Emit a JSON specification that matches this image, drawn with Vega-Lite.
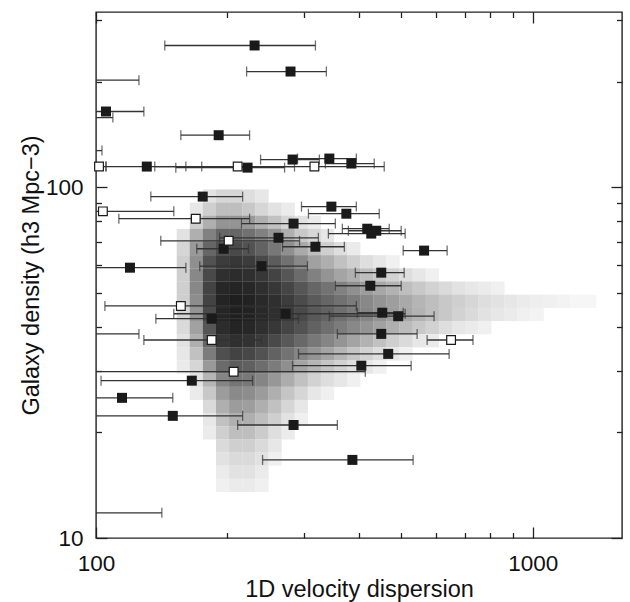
{
  "$schema": "https://vega.github.io/schema/vega-lite/v6.json",
  "width": 526,
  "height": 526,
  "autosize": {"type": "none"},
  "padding": {"left": 96, "top": 12, "right": 8, "bottom": 64},
  "background": "white",
  "config": {
    "view": {"stroke": "#222", "strokeWidth": 1.4},
    "font": "Liberation Sans",
    "axis": {
      "domain": false, "grid": false, "tickColor": "#222", "tickWidth": 1.3,
      "labelFont": "Liberation Sans", "labelFontSize": 22.5, "labelColor": "#111",
      "titleFont": "Liberation Sans", "titleFontSize": 23.5, "titleFontWeight": "normal", "titleColor": "#111",
      "labelOverlap": false, "labelFlush": false
    }
  },
  "datasets": {
    "cloud": [
      {"x":182.0,"y":94.41,"d":0.05},{"x":195.0,"y":94.41,"d":0.08},{"x":208.9,"y":94.41,"d":0.08},{"x":223.9,"y":94.41,"d":0.06},{"x":239.9,"y":94.41,"d":0.04},
      {"x":169.8,"y":86.6,"d":0.04},{"x":182.0,"y":86.6,"d":0.1},{"x":195.0,"y":86.6,"d":0.15},{"x":208.9,"y":86.6,"d":0.15},{"x":223.9,"y":86.6,"d":0.12},{"x":239.9,"y":86.6,"d":0.08},{"x":257.0,"y":86.6,"d":0.05},{"x":275.4,"y":86.6,"d":0.03},
      {"x":169.8,"y":79.43,"d":0.1},{"x":182.0,"y":79.43,"d":0.2},{"x":195.0,"y":79.43,"d":0.3},{"x":208.9,"y":79.43,"d":0.3},{"x":223.9,"y":79.43,"d":0.28},{"x":239.9,"y":79.43,"d":0.2},{"x":257.0,"y":79.43,"d":0.14},{"x":275.4,"y":79.43,"d":0.08},{"x":295.1,"y":79.43,"d":0.05},{"x":316.2,"y":79.43,"d":0.03},
      {"x":158.5,"y":72.86,"d":0.05},{"x":169.8,"y":72.86,"d":0.2},{"x":182.0,"y":72.86,"d":0.38},{"x":195.0,"y":72.86,"d":0.5},{"x":208.9,"y":72.86,"d":0.5},{"x":223.9,"y":72.86,"d":0.45},{"x":239.9,"y":72.86,"d":0.38},{"x":257.0,"y":72.86,"d":0.3},{"x":275.4,"y":72.86,"d":0.2},{"x":295.1,"y":72.86,"d":0.12},{"x":316.2,"y":72.86,"d":0.08},{"x":338.8,"y":72.86,"d":0.04},
      {"x":158.5,"y":66.83,"d":0.08},{"x":169.8,"y":66.83,"d":0.28},{"x":182.0,"y":66.83,"d":0.5},{"x":195.0,"y":66.83,"d":0.62},{"x":208.9,"y":66.83,"d":0.65},{"x":223.9,"y":66.83,"d":0.6},{"x":239.9,"y":66.83,"d":0.52},{"x":257.0,"y":66.83,"d":0.42},{"x":275.4,"y":66.83,"d":0.32},{"x":295.1,"y":66.83,"d":0.22},{"x":316.2,"y":66.83,"d":0.15},{"x":338.8,"y":66.83,"d":0.1},{"x":363.1,"y":66.83,"d":0.06},{"x":389.0,"y":66.83,"d":0.03},
      {"x":158.5,"y":61.31,"d":0.1},{"x":169.8,"y":61.31,"d":0.32},{"x":182.0,"y":61.31,"d":0.6},{"x":195.0,"y":61.31,"d":0.72},{"x":208.9,"y":61.31,"d":0.75},{"x":223.9,"y":61.31,"d":0.72},{"x":239.9,"y":61.31,"d":0.65},{"x":257.0,"y":61.31,"d":0.55},{"x":275.4,"y":61.31,"d":0.45},{"x":295.1,"y":61.31,"d":0.35},{"x":316.2,"y":61.31,"d":0.25},{"x":338.8,"y":61.31,"d":0.2},{"x":363.1,"y":61.31,"d":0.14},{"x":389.0,"y":61.31,"d":0.1},{"x":416.9,"y":61.31,"d":0.06},{"x":446.7,"y":61.31,"d":0.04},{"x":478.6,"y":61.31,"d":0.02},
      {"x":158.5,"y":56.23,"d":0.1},{"x":169.8,"y":56.23,"d":0.35},{"x":182.0,"y":56.23,"d":0.65},{"x":195.0,"y":56.23,"d":0.8},{"x":208.9,"y":56.23,"d":0.82},{"x":223.9,"y":56.23,"d":0.8},{"x":239.9,"y":56.23,"d":0.75},{"x":257.0,"y":56.23,"d":0.68},{"x":275.4,"y":56.23,"d":0.58},{"x":295.1,"y":56.23,"d":0.48},{"x":316.2,"y":56.23,"d":0.38},{"x":338.8,"y":56.23,"d":0.3},{"x":363.1,"y":56.23,"d":0.24},{"x":389.0,"y":56.23,"d":0.2},{"x":416.9,"y":56.23,"d":0.15},{"x":446.7,"y":56.23,"d":0.12},{"x":478.6,"y":56.23,"d":0.09},{"x":512.9,"y":56.23,"d":0.06},{"x":549.5,"y":56.23,"d":0.04},{"x":588.8,"y":56.23,"d":0.02},
      {"x":158.5,"y":51.58,"d":0.1},{"x":169.8,"y":51.58,"d":0.35},{"x":182.0,"y":51.58,"d":0.68},{"x":195.0,"y":51.58,"d":0.85},{"x":208.9,"y":51.58,"d":0.87},{"x":223.9,"y":51.58,"d":0.85},{"x":239.9,"y":51.58,"d":0.8},{"x":257.0,"y":51.58,"d":0.75},{"x":275.4,"y":51.58,"d":0.67},{"x":295.1,"y":51.58,"d":0.58},{"x":316.2,"y":51.58,"d":0.5},{"x":338.8,"y":51.58,"d":0.44},{"x":363.1,"y":51.58,"d":0.38},{"x":389.0,"y":51.58,"d":0.32},{"x":416.9,"y":51.58,"d":0.27},{"x":446.7,"y":51.58,"d":0.23},{"x":478.6,"y":51.58,"d":0.19},{"x":512.9,"y":51.58,"d":0.15},{"x":549.5,"y":51.58,"d":0.12},{"x":588.8,"y":51.58,"d":0.09},{"x":631.0,"y":51.58,"d":0.07},{"x":676.1,"y":51.58,"d":0.05},{"x":724.4,"y":51.58,"d":0.04},{"x":776.2,"y":51.58,"d":0.03},{"x":831.8,"y":51.58,"d":0.02},
      {"x":158.5,"y":47.32,"d":0.1},{"x":169.8,"y":47.32,"d":0.33},{"x":182.0,"y":47.32,"d":0.68},{"x":195.0,"y":47.32,"d":0.87},{"x":208.9,"y":47.32,"d":0.9},{"x":223.9,"y":47.32,"d":0.88},{"x":239.9,"y":47.32,"d":0.84},{"x":257.0,"y":47.32,"d":0.8},{"x":275.4,"y":47.32,"d":0.72},{"x":295.1,"y":47.32,"d":0.64},{"x":316.2,"y":47.32,"d":0.56},{"x":338.8,"y":47.32,"d":0.5},{"x":363.1,"y":47.32,"d":0.45},{"x":389.0,"y":47.32,"d":0.4},{"x":416.9,"y":47.32,"d":0.35},{"x":446.7,"y":47.32,"d":0.3},{"x":478.6,"y":47.32,"d":0.26},{"x":512.9,"y":47.32,"d":0.22},{"x":549.5,"y":47.32,"d":0.18},{"x":588.8,"y":47.32,"d":0.15},{"x":631.0,"y":47.32,"d":0.12},{"x":676.1,"y":47.32,"d":0.1},{"x":724.4,"y":47.32,"d":0.08},{"x":776.2,"y":47.32,"d":0.06},{"x":831.8,"y":47.32,"d":0.05},{"x":891.3,"y":47.32,"d":0.04},{"x":955.0,"y":47.32,"d":0.03},{"x":1023,"y":47.32,"d":0.025},{"x":1096,"y":47.32,"d":0.02},{"x":1175,"y":47.32,"d":0.015},{"x":1259,"y":47.32,"d":0.01},{"x":1349,"y":47.32,"d":0.01},
      {"x":158.5,"y":43.4,"d":0.08},{"x":169.8,"y":43.4,"d":0.3},{"x":182.0,"y":43.4,"d":0.65},{"x":195.0,"y":43.4,"d":0.86},{"x":208.9,"y":43.4,"d":0.9},{"x":223.9,"y":43.4,"d":0.88},{"x":239.9,"y":43.4,"d":0.84},{"x":257.0,"y":43.4,"d":0.8},{"x":275.4,"y":43.4,"d":0.73},{"x":295.1,"y":43.4,"d":0.65},{"x":316.2,"y":43.4,"d":0.57},{"x":338.8,"y":43.4,"d":0.52},{"x":363.1,"y":43.4,"d":0.46},{"x":389.0,"y":43.4,"d":0.41},{"x":416.9,"y":43.4,"d":0.36},{"x":446.7,"y":43.4,"d":0.31},{"x":478.6,"y":43.4,"d":0.27},{"x":512.9,"y":43.4,"d":0.23},{"x":549.5,"y":43.4,"d":0.19},{"x":588.8,"y":43.4,"d":0.15},{"x":631.0,"y":43.4,"d":0.12},{"x":676.1,"y":43.4,"d":0.09},{"x":724.4,"y":43.4,"d":0.07},{"x":776.2,"y":43.4,"d":0.05},{"x":831.8,"y":43.4,"d":0.04},{"x":891.3,"y":43.4,"d":0.03},{"x":955.0,"y":43.4,"d":0.02},{"x":1023,"y":43.4,"d":0.015},
      {"x":158.5,"y":39.81,"d":0.07},{"x":169.8,"y":39.81,"d":0.25},{"x":182.0,"y":39.81,"d":0.58},{"x":195.0,"y":39.81,"d":0.82},{"x":208.9,"y":39.81,"d":0.87},{"x":223.9,"y":39.81,"d":0.85},{"x":239.9,"y":39.81,"d":0.8},{"x":257.0,"y":39.81,"d":0.75},{"x":275.4,"y":39.81,"d":0.67},{"x":295.1,"y":39.81,"d":0.6},{"x":316.2,"y":39.81,"d":0.52},{"x":338.8,"y":39.81,"d":0.46},{"x":363.1,"y":39.81,"d":0.4},{"x":389.0,"y":39.81,"d":0.35},{"x":416.9,"y":39.81,"d":0.3},{"x":446.7,"y":39.81,"d":0.25},{"x":478.6,"y":39.81,"d":0.2},{"x":512.9,"y":39.81,"d":0.16},{"x":549.5,"y":39.81,"d":0.12},{"x":588.8,"y":39.81,"d":0.09},{"x":631.0,"y":39.81,"d":0.06},{"x":676.1,"y":39.81,"d":0.04},{"x":724.4,"y":39.81,"d":0.03},{"x":776.2,"y":39.81,"d":0.02},
      {"x":158.5,"y":36.52,"d":0.05},{"x":169.8,"y":36.52,"d":0.2},{"x":182.0,"y":36.52,"d":0.5},{"x":195.0,"y":36.52,"d":0.75},{"x":208.9,"y":36.52,"d":0.8},{"x":223.9,"y":36.52,"d":0.78},{"x":239.9,"y":36.52,"d":0.72},{"x":257.0,"y":36.52,"d":0.65},{"x":275.4,"y":36.52,"d":0.57},{"x":295.1,"y":36.52,"d":0.49},{"x":316.2,"y":36.52,"d":0.42},{"x":338.8,"y":36.52,"d":0.36},{"x":363.1,"y":36.52,"d":0.3},{"x":389.0,"y":36.52,"d":0.24},{"x":416.9,"y":36.52,"d":0.19},{"x":446.7,"y":36.52,"d":0.14},{"x":478.6,"y":36.52,"d":0.1},{"x":512.9,"y":36.52,"d":0.07},{"x":549.5,"y":36.52,"d":0.04},{"x":588.8,"y":36.52,"d":0.03},
      {"x":158.5,"y":33.5,"d":0.04},{"x":169.8,"y":33.5,"d":0.14},{"x":182.0,"y":33.5,"d":0.4},{"x":195.0,"y":33.5,"d":0.62},{"x":208.9,"y":33.5,"d":0.68},{"x":223.9,"y":33.5,"d":0.66},{"x":239.9,"y":33.5,"d":0.6},{"x":257.0,"y":33.5,"d":0.52},{"x":275.4,"y":33.5,"d":0.44},{"x":295.1,"y":33.5,"d":0.36},{"x":316.2,"y":33.5,"d":0.3},{"x":338.8,"y":33.5,"d":0.24},{"x":363.1,"y":33.5,"d":0.18},{"x":389.0,"y":33.5,"d":0.13},{"x":416.9,"y":33.5,"d":0.09},{"x":446.7,"y":33.5,"d":0.06},{"x":478.6,"y":33.5,"d":0.04},{"x":512.9,"y":33.5,"d":0.02},
      {"x":158.5,"y":30.72,"d":0.03},{"x":169.8,"y":30.72,"d":0.08},{"x":182.0,"y":30.72,"d":0.28},{"x":195.0,"y":30.72,"d":0.48},{"x":208.9,"y":30.72,"d":0.55},{"x":223.9,"y":30.72,"d":0.53},{"x":239.9,"y":30.72,"d":0.47},{"x":257.0,"y":30.72,"d":0.4},{"x":275.4,"y":30.72,"d":0.32},{"x":295.1,"y":30.72,"d":0.24},{"x":316.2,"y":30.72,"d":0.18},{"x":338.8,"y":30.72,"d":0.13},{"x":363.1,"y":30.72,"d":0.09},{"x":389.0,"y":30.72,"d":0.06},{"x":416.9,"y":30.72,"d":0.04},{"x":446.7,"y":30.72,"d":0.02},
      {"x":169.8,"y":28.18,"d":0.05},{"x":182.0,"y":28.18,"d":0.18},{"x":195.0,"y":28.18,"d":0.36},{"x":208.9,"y":28.18,"d":0.43},{"x":223.9,"y":28.18,"d":0.42},{"x":239.9,"y":28.18,"d":0.36},{"x":257.0,"y":28.18,"d":0.29},{"x":275.4,"y":28.18,"d":0.21},{"x":295.1,"y":28.18,"d":0.14},{"x":316.2,"y":28.18,"d":0.09},{"x":338.8,"y":28.18,"d":0.06},{"x":363.1,"y":28.18,"d":0.04},{"x":389.0,"y":28.18,"d":0.02},
      {"x":169.8,"y":25.85,"d":0.03},{"x":182.0,"y":25.85,"d":0.12},{"x":195.0,"y":25.85,"d":0.27},{"x":208.9,"y":25.85,"d":0.34},{"x":223.9,"y":25.85,"d":0.33},{"x":239.9,"y":25.85,"d":0.27},{"x":257.0,"y":25.85,"d":0.2},{"x":275.4,"y":25.85,"d":0.13},{"x":295.1,"y":25.85,"d":0.08},{"x":316.2,"y":25.85,"d":0.04},{"x":338.8,"y":25.85,"d":0.02},
      {"x":182.0,"y":23.71,"d":0.07},{"x":195.0,"y":23.71,"d":0.2},{"x":208.9,"y":23.71,"d":0.27},{"x":223.9,"y":23.71,"d":0.26},{"x":239.9,"y":23.71,"d":0.2},{"x":257.0,"y":23.71,"d":0.14},{"x":275.4,"y":23.71,"d":0.08},{"x":295.1,"y":23.71,"d":0.04},
      {"x":182.0,"y":21.76,"d":0.04},{"x":195.0,"y":21.76,"d":0.14},{"x":208.9,"y":21.76,"d":0.2},{"x":223.9,"y":21.76,"d":0.2},{"x":239.9,"y":21.76,"d":0.15},{"x":257.0,"y":21.76,"d":0.1},{"x":275.4,"y":21.76,"d":0.05},{"x":295.1,"y":21.76,"d":0.02},
      {"x":182.0,"y":19.95,"d":0.03},{"x":195.0,"y":19.95,"d":0.1},{"x":208.9,"y":19.95,"d":0.15},{"x":223.9,"y":19.95,"d":0.15},{"x":239.9,"y":19.95,"d":0.11},{"x":257.0,"y":19.95,"d":0.06},{"x":275.4,"y":19.95,"d":0.03},
      {"x":195.0,"y":18.3,"d":0.07},{"x":208.9,"y":18.3,"d":0.1},{"x":223.9,"y":18.3,"d":0.1},{"x":239.9,"y":18.3,"d":0.07},{"x":257.0,"y":18.3,"d":0.04},
      {"x":195.0,"y":16.79,"d":0.05},{"x":208.9,"y":16.79,"d":0.07},{"x":223.9,"y":16.79,"d":0.07},{"x":239.9,"y":16.79,"d":0.05},{"x":257.0,"y":16.79,"d":0.02},
      {"x":195.0,"y":15.4,"d":0.03},{"x":208.9,"y":15.4,"d":0.05},{"x":223.9,"y":15.4,"d":0.05},{"x":239.9,"y":15.4,"d":0.03},
      {"x":195.0,"y":14.13,"d":0.02},{"x":208.9,"y":14.13,"d":0.03},{"x":223.9,"y":14.13,"d":0.03},{"x":239.9,"y":14.13,"d":0.02}
    ],
    "bars": [
      {"x":230.7,"y":253.8,"lo":143.7,"hi":317.9,"m":"f"},
      {"x":278.8,"y":213.9,"lo":221.2,"hi":336.8,"m":"f"},
      {"x":90,"y":202.1,"lo":80,"hi":125.4,"m":"n"},
      {"x":105.4,"y":164.5,"lo":80,"hi":128.7,"m":"f"},
      {"x":90,"y":158.1,"lo":80,"hi":109.3,"m":"n"},
      {"x":190.9,"y":140.8,"lo":156.4,"hi":224.7,"m":"f"},
      {"x":90,"y":127.3,"lo":80,"hi":103.2,"m":"n"},
      {"x":101.6,"y":114.6,"lo":80,"hi":105.4,"m":"o"},
      {"x":130.7,"y":114.6,"lo":105.4,"hi":160.6,"m":"f"},
      {"x":211.0,"y":114.6,"lo":136.3,"hi":284.7,"m":"o"},
      {"x":222.3,"y":113.8,"lo":152.3,"hi":270.2,"m":"f"},
      {"x":316.2,"y":114.6,"lo":174.6,"hi":456.9,"m":"o"},
      {"x":384.2,"y":116.9,"lo":335.0,"hi":433.5,"m":"f"},
      {"x":281.8,"y":120.0,"lo":238.1,"hi":324.6,"m":"f"},
      {"x":342.1,"y":120.8,"lo":289.3,"hi":394.4,"m":"f"},
      {"x":175.5,"y":94.1,"lo":133.5,"hi":216.6,"m":"f"},
      {"x":103.7,"y":85.4,"lo":80,"hi":150.7,"m":"o"},
      {"x":169.2,"y":81.4,"lo":112.8,"hi":224.7,"m":"o"},
      {"x":283.3,"y":78.8,"lo":215.4,"hi":353.1,"m":"f"},
      {"x":345.8,"y":88.1,"lo":295.4,"hi":394.4,"m":"f"},
      {"x":374.2,"y":84.1,"lo":306.4,"hi":445.0,"m":"f"},
      {"x":417.8,"y":76.2,"lo":366.4,"hi":469.1,"m":"f"},
      {"x":438.1,"y":75.2,"lo":378.2,"hi":499.6,"m":"f"},
      {"x":426.7,"y":73.8,"lo":340.4,"hi":510.2,"m":"f"},
      {"x":261.7,"y":71.8,"lo":191.9,"hi":322.9,"m":"f"},
      {"x":201.2,"y":70.4,"lo":140.7,"hi":292.4,"m":"o"},
      {"x":196.0,"y":66.8,"lo":170.1,"hi":223.5,"m":"f"},
      {"x":317.9,"y":67.7,"lo":267.3,"hi":370.3,"m":"f"},
      {"x":563.7,"y":66.0,"lo":504.9,"hi":636.5,"m":"f"},
      {"x":239.3,"y":59.6,"lo":172.8,"hi":304.8,"m":"f"},
      {"x":119.6,"y":59.0,"lo":80,"hi":160.6,"m":"f"},
      {"x":449.8,"y":57.1,"lo":392.4,"hi":507.5,"m":"f"},
      {"x":424.5,"y":52.4,"lo":353.1,"hi":499.6,"m":"f"},
      {"x":156.4,"y":45.9,"lo":104.8,"hi":394.4,"m":"o"},
      {"x":271.6,"y":43.6,"lo":150.7,"hi":510.2,"m":"f"},
      {"x":184.0,"y":42.2,"lo":137.1,"hi":290.8,"m":"f"},
      {"x":452.2,"y":43.9,"lo":396.5,"hi":504.9,"m":"f"},
      {"x":491.8,"y":42.9,"lo":342.1,"hi":594.2,"m":"f"},
      {"x":449.8,"y":38.2,"lo":356.9,"hi":543.4,"m":"f"},
      {"x":649.9,"y":36.7,"lo":572.8,"hi":729.5,"m":"o"},
      {"x":184.0,"y":36.7,"lo":128.7,"hi":239.3,"m":"o"},
      {"x":90,"y":38.2,"lo":80,"hi":125.4,"m":"n"},
      {"x":466.6,"y":33.5,"lo":290.8,"hi":643.2,"m":"f"},
      {"x":404.9,"y":31.0,"lo":281.8,"hi":526.6,"m":"f"},
      {"x":206.6,"y":29.8,"lo":80,"hi":413.5,"m":"o"},
      {"x":165.7,"y":28.1,"lo":102.7,"hi":228.3,"m":"f"},
      {"x":114.7,"y":25.1,"lo":80,"hi":149.9,"m":"f"},
      {"x":149.9,"y":22.3,"lo":80,"hi":216.6,"m":"f"},
      {"x":283.3,"y":21.0,"lo":211.0,"hi":356.9,"m":"f"},
      {"x":386.3,"y":16.7,"lo":240.6,"hi":532.1,"m":"f"},
      {"x":90,"y":11.8,"lo":80,"hi":141.5,"m":"n"}
    ]
  },
  "layer": [
    {
      "data": {"name": "cloud"},
      "mark": {"type": "square", "size": 178, "filled": true, "opacity": 1, "strokeWidth": 0},
      "encoding": {
        "x": {"field": "x", "type": "quantitative",
          "scale": {"type": "log", "domain": [100, 1600], "nice": false},
          "axis": {"orient": "bottom", "values": [100,200,300,400,500,600,700,800,900,1000],
            "labelExpr": "(datum.value == 100 || datum.value == 1000) ? format(datum.value, 'd') : ''",
            "tickSize": {"condition": {"test": "datum.value == 100 || datum.value == 1000", "value": -11}, "value": -5.5},
            "labelPadding": 25,
            "title": "1D velocity dispersion", "titleX": 263, "titleY": 58, "titleBaseline": "alphabetic", "titleAlign": "center", "titleAnchor": null}},
        "y": {"field": "y", "type": "quantitative",
          "scale": {"type": "log", "domain": [10, 316.2], "nice": false},
          "axis": {"orient": "left", "values": [10,20,30,40,50,60,70,80,90,100,200,300],
            "labelExpr": "(datum.value == 10 || datum.value == 100) ? format(datum.value, 'd') : ''",
            "tickSize": {"condition": {"test": "datum.value == 10 || datum.value == 100", "value": -11}, "value": -5.5},
            "labelPadding": 24,
            "title": "Galaxy density (h3 Mpc−3)", "titleX": -58, "titleY": 263, "titleAngle": -90, "titleBaseline": "alphabetic", "titleAlign": "center"}},
        "color": {"field": "d", "type": "quantitative", "scale": {"type": "pow", "exponent": 0.75, "domain": [0, 1], "range": ["#ffffff", "#101010"]}, "legend": null}
      }
    },
    {
      "data": {"name": "bars"},
      "mark": {"type": "rule", "clip": true, "color": "#333333", "strokeWidth": 1.3},
      "encoding": {
        "x": {"field": "lo", "type": "quantitative",
          "axis": {"orient": "top", "values": [100,200,300,400,500,600,700,800,900,1000], "labels": false, "title": null,
            "tickSize": {"condition": {"test": "datum.value == 100 || datum.value == 1000", "value": -11}, "value": -5.5}}},
        "x2": {"field": "hi"},
        "y": {"field": "y", "type": "quantitative",
          "axis": {"orient": "right", "values": [10,20,30,40,50,60,70,80,90,100,200,300], "labels": false, "title": null,
            "tickSize": {"condition": {"test": "datum.value == 10 || datum.value == 100", "value": -11}, "value": -5.5}}}
      }
    },
    {
      "data": {"name": "bars"},
      "mark": {"type": "tick", "orient": "vertical", "clip": true, "color": "#333333", "thickness": 1.3, "size": 10},
      "encoding": {
        "x": {"field": "lo", "type": "quantitative", "axis": null},
        "y": {"field": "y", "type": "quantitative", "axis": null}
      }
    },
    {
      "data": {"name": "bars"},
      "mark": {"type": "tick", "orient": "vertical", "clip": true, "color": "#333333", "thickness": 1.3, "size": 10},
      "encoding": {
        "x": {"field": "hi", "type": "quantitative", "axis": null},
        "y": {"field": "y", "type": "quantitative", "axis": null}
      }
    },
    {
      "data": {"name": "bars"},
      "transform": [{"filter": "datum.m == 'f'"}],
      "mark": {"type": "square", "size": 100, "filled": true, "color": "#1a1a1a", "opacity": 1},
      "encoding": {
        "x": {"field": "x", "type": "quantitative", "axis": null},
        "y": {"field": "y", "type": "quantitative", "axis": null}
      }
    },
    {
      "data": {"name": "bars"},
      "transform": [{"filter": "datum.m == 'o'"}],
      "mark": {"type": "square", "size": 76, "filled": false, "fill": "#ffffff", "fillOpacity": 1, "stroke": "#1a1a1a", "strokeWidth": 1.2, "opacity": 1},
      "encoding": {
        "x": {"field": "x", "type": "quantitative", "axis": null},
        "y": {"field": "y", "type": "quantitative", "axis": null}
      }
    }
  ],
  "resolve": {"axis": {"x": "independent", "y": "independent"}}
}
